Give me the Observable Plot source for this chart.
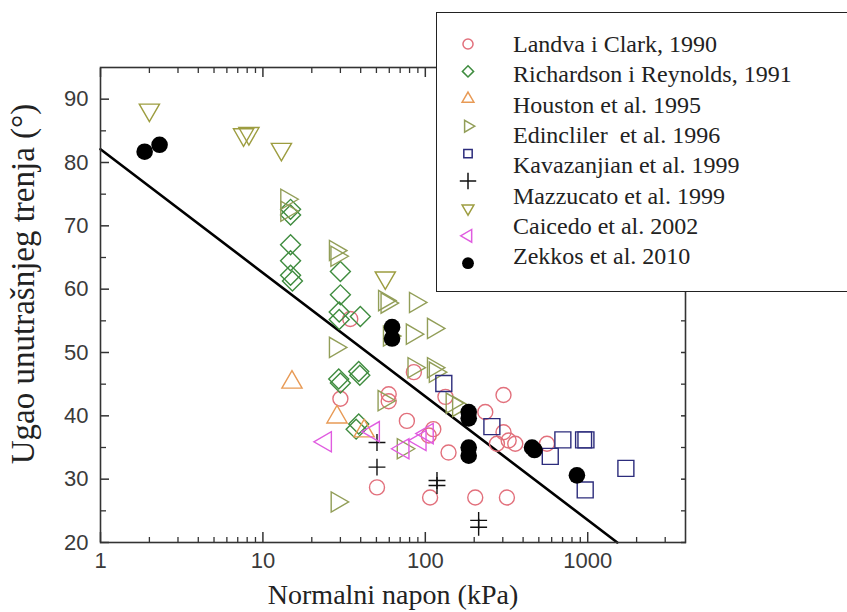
<!DOCTYPE html>
<html>
<head>
<meta charset="utf-8">
<script src="https://cdn.jsdelivr.net/npm/d3@7"></script>
<script src="https://cdn.jsdelivr.net/npm/@observablehq/plot@0.6"></script>
<style>
html, body { margin: 0; padding: 0; background: #fff; }
#wrap { position: relative; width: 847px; height: 612px; overflow: hidden; background: #fff; }
#wrap svg { position: absolute; left: 0; top: 0; }
#legend { position: absolute; left: 436px; top: 12px; width: 420px; height: 280px; border: 1.5px solid #222; background: #fff; box-sizing: border-box; }
.lab { position: absolute; left: 76px; font-family: "Liberation Serif", "Times New Roman", serif; font-size: 24px; color: #222; white-space: pre; line-height: 1; }
</style>
</head>
<body>
<div id="wrap"></div>
<script>
// ---- data ----
const landva = [[30,42.7],[34.5,55.3],[50.4,28.7],[59.5,43.4],[59.5,42.3],[77,39.2],[85,46.9],[107,27.1],[105,36.9],[112,37.9],[139,34.2],[133,43],[203,27.1],[234,40.6],[303,43.3],[303,37.4],[276,35.6],[326,36.1],[358,35.6],[318,27.1],[561,35.6]];
const richardson = [[14.8,72.6],[14.8,71.7],[14.8,67],[14.8,64.5],[14.8,62.2],[15.2,61.3],[30,62.8],[30,59.1],[29.5,56.4],[29.5,55.2],[39.8,55.7],[29.3,45.8],[30,45.2],[38.9,47],[39.5,46.4],[38.9,38.7],[37.5,37.9]];
const houston = [[15.1,45.3],[28.6,39.8],[42,37.6]];
const edincliler = [[14,74.2],[14,72.3],[27.9,66.1],[28.5,65.2],[27.9,50.8],[28.6,26.4],[56,58.2],[58,57.8],[86.8,57.9],[60,52.6],[83,52.9],[112,53.8],[55.6,42.4],[73,34.8],[85,47.6],[112,47.6],[115,46.9],[146,42],[160,41.5]];
const kavazanjian = [[130,45.1],[257,38.3],[588,33.6],[703,36.2],[943,36.2],[975,36.2],[965,28.3],[1718,31.7]];
const mazzucato = [[50.4,35.8],[50.4,31.9],[118,29.8],[118,29.0],[213,23.5],[213,22.4]];
const caicedo = [[2.0,88.3],[7.6,84.4],[8.2,84.6],[13,82.1],[56.7,61.8]];
const caicedoLeft = [[24.3,35.9],[48,37.5],[73,34.8],[93,36.1],[103,37.2]];
const zekkos = [[1.87,81.7],[2.31,82.8],[62.4,54],[62.4,52.2],[185,40.6],[185,39.6],[185,35.0],[185,33.7],[454,35],[470,34.6],[858,30.6]];

const fitX = [1, 1520];
const fitY = [82.1, 20];

const legendLabels = ["Landva i Clark, 1990","Richardson i Reynolds, 1991","Houston et al. 1995","Edincliler  et al. 1996","Kavazanjian et al. 1999","Mazzucato et al. 1999","Caicedo et al. 2002","Zekkos et al. 2010"];

const xMajor = [1, 10, 100, 1000];
const xMinor = [2,3,4,5,6,7,8,9,20,30,40,50,60,70,80,90,200,300,400,500,600,700,800,900,2000,3000];
const yMajor = [20,30,40,50,60,70,80,90];
const yMinor = [25,35,45,55,65,75,85];

// series styling
const series = [
  {data: landva,      symbol: "circle",   color: "#e2707c", rotate: 0,   r: 7.5, fill: false},
  {data: richardson,  symbol: "diamond2", color: "#3f8c3f", rotate: 0,   r: 9,   fill: false},
  {data: houston,     symbol: "triangle", color: "#e89a55", rotate: 0,   r: 7.5, fill: false},
  {data: edincliler,  symbol: "triangle", color: "#929e58", rotate: 90,  r: 7.5, fill: false},
  {data: kavazanjian, symbol: "square",   color: "#2c2c7c", rotate: 0,   r: 9,   fill: false},
  {data: mazzucato,   symbol: "plus",     color: "#111111", rotate: 0,   r: 5.5, fill: false},
  {data: caicedo,     symbol: "triangle", color: "#9d9d40", rotate: 180, r: 7.5, fill: false},
  {data: caicedoLeft, symbol: "triangle", color: "#e05ce0", rotate: 270, r: 7.5, fill: false},
  {data: zekkos,      symbol: "circle",   color: "#000000", rotate: 0,   r: 8.3, fill: true}
];

const toRows = arr => arr.map(([x, y]) => ({x, y}));
const fitRows = fitX.map((x, i) => ({x, y: fitY[i]}));

const dotMarks = series.map(s => Plot.dot(toRows(s.data), {
  x: "x", y: "y", symbol: () => s.symbol, r: s.r, rotate: s.rotate,
  stroke: s.fill ? "none" : s.color, fill: s.fill ? s.color : "none", strokeWidth: 1.4
}));

const sans = "Liberation Sans, Arial, sans-serif";
const serif = "Liberation Serif, Times New Roman, serif";

const chart = Plot.plot({
  width: 847, height: 612,
  marginLeft: 100, marginRight: 162, marginTop: 67, marginBottom: 70,
  x: {type: "log", domain: [1, 4000]},
  y: {domain: [20, 95]},
  style: {background: "transparent", overflow: "visible"},
  marks: [
    Plot.line(fitRows, {x: "x", y: "y", stroke: "#000", strokeWidth: 2.6}),
    ...dotMarks,
    Plot.frame({stroke: "#333", strokeWidth: 1.6}),
    Plot.axisX(xMajor, {anchor: "bottom", tickSize: -10, tickPadding: 20, tickFormat: d => String(d), label: null, fontSize: 22, fontFamily: sans, fill: "#3a3a3a", stroke: "#333", strokeWidth: 1.5}),
    Plot.axisX(xMinor, {anchor: "bottom", tickSize: -5, fill: "none", label: null, stroke: "#333", strokeWidth: 1.3}),
    Plot.axisX(xMajor, {anchor: "top", tickSize: -9, fill: "none", label: null, stroke: "#333", strokeWidth: 1.5}),
    Plot.axisX(xMinor, {anchor: "top", tickSize: -5, fill: "none", label: null, stroke: "#333", strokeWidth: 1.3}),
    Plot.axisY(yMajor, {anchor: "left", tickSize: -9, tickPadding: 21, label: null, fontSize: 22, fontFamily: sans, fill: "#3a3a3a", stroke: "#333", strokeWidth: 1.5}),
    Plot.axisY(yMinor, {anchor: "left", tickSize: -6, fill: "none", label: null, stroke: "#333", strokeWidth: 1.3}),
    Plot.axisY(yMajor, {anchor: "right", tickSize: -5, fill: "none", label: null, stroke: "#333", strokeWidth: 1.5}),
    Plot.axisY(yMinor, {anchor: "right", tickSize: -5, fill: "none", label: null, stroke: "#333", strokeWidth: 1.3}),
    Plot.text(["Normalni napon (kPa)"], {frameAnchor: "bottom", dy: 53, fontSize: 28, fontFamily: serif, fill: "#222", lineAnchor: "middle", textAnchor: "middle"}),
    Plot.text(["Ugao unutrašnjeg trenja (°)"], {frameAnchor: "left", dx: -77, dy: -21, rotate: -90, fontSize: 33, fontFamily: serif, fill: "#222", lineAnchor: "middle", textAnchor: "middle"})
  ]
});

const wrap = document.getElementById("wrap");
wrap.appendChild(chart);

// ---- legend ----
const legend = document.createElement("div");
legend.id = "legend";
wrap.appendChild(legend);

const ns = "http://www.w3.org/2000/svg";
const lsvg = document.createElementNS(ns, "svg");
lsvg.setAttribute("width", 60);
lsvg.setAttribute("height", 278);
lsvg.style.position = "absolute";
lsvg.style.left = "0px";
lsvg.style.top = "0px";
legend.appendChild(lsvg);

const symMap = {circle: d3.symbolCircle, diamond2: d3.symbolDiamond2, triangle: d3.symbolTriangle, square: d3.symbolSquare, plus: d3.symbolPlus};
const legendSizes = [80, 80, 60, 60, 70, 90, 60, 70, 110];
const symTop = 31, symStep = 27.4;
series.forEach((s, i) => {
  const p = document.createElementNS(ns, "path");
  p.setAttribute("d", d3.symbol(symMap[s.symbol], legendSizes[i])());
  p.setAttribute("transform", `translate(31,${symTop + i * symStep}) rotate(${s.rotate})`);
  p.setAttribute("fill", s.fill ? s.color : "none");
  p.setAttribute("stroke", s.fill ? "none" : s.color);
  p.setAttribute("stroke-width", 1.5);
  lsvg.appendChild(p);
});

legendLabels.forEach((t, i) => {
  const d = document.createElement("div");
  d.className = "lab";
  d.textContent = t;
  d.style.top = (31 - 12 + i * 30.3) + "px";
  legend.appendChild(d);
});
</script>
</body>
</html>
